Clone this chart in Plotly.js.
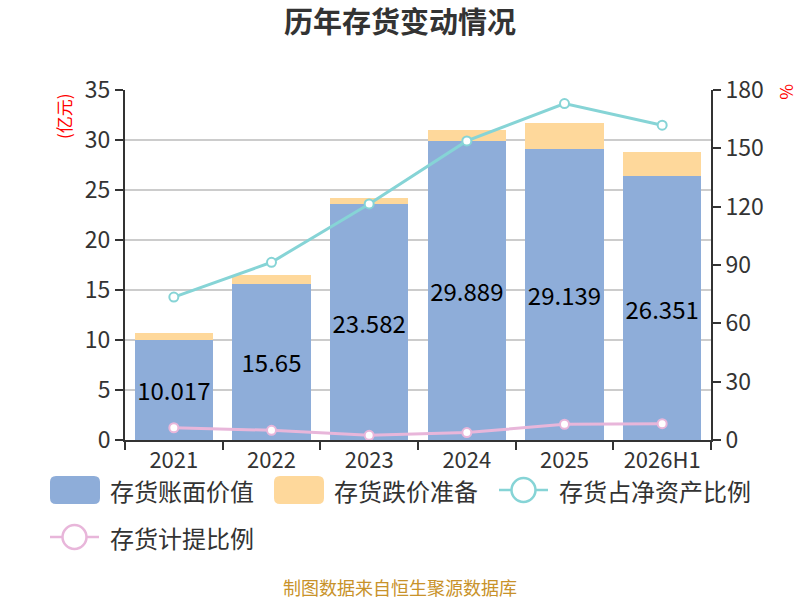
<!DOCTYPE html>
<html>
<head>
<meta charset="utf-8">
<script src="https://cdn.plot.ly/plotly-3.0.1.min.js"></script>
<style>
  body { margin: 0; background: #fff; }
  #chart { width: 800px; height: 600px; }
</style>
</head>
<body>
<div id="chart"></div>
<script>
// 年份
var years = ['2021', '2022', '2023', '2024', '2025', '2026H1'];
// 存货账面价值 (亿元)
var bookValue = [10.017, 15.65, 23.582, 29.889, 29.139, 26.351];
// 存货跌价准备 (亿元)
var reserve = [0.70, 0.85, 0.59, 1.11, 2.53, 2.45];
// 存货占净资产比例 (%)
var netAssetRatio = [73.5, 91.4, 121.4, 153.8, 173.0, 161.9];
// 存货计提比例 (%)
var provisionRatio = [6.3, 5.0, 2.4, 3.8, 8.1, 8.4];

var seriesNames = ['存货账面价值', '存货跌价准备', '存货占净资产比例', '存货计提比例'];
var seriesColors = ['#8eadd9', '#fed89b', '#86d4d6', '#e8b6da'];

var fontFamily = '"Noto Sans CJK SC", "Noto Sans", sans-serif';

// plot area in pixels (for placing the hand-made legend)
var M = { l: 125, r: 89, t: 90, b: 160 };
var plotW = 800 - M.l - M.r, plotH = 600 - M.t - M.b;
function px(x) { return (x - M.l) / plotW; }
function py(y) { return (600 - M.b - y) / plotH; }

var traces = [
  {
    type: 'bar',
    name: seriesNames[0],
    x: years,
    y: bookValue,
    marker: { color: seriesColors[0] },
    text: bookValue.map(String),
    textposition: 'inside',
    insidetextanchor: 'middle',
    textangle: 0,
    constraintext: 'none',
    textfont: { size: 24, color: '#000', family: fontFamily },
    showlegend: false
  },
  {
    type: 'bar',
    name: seriesNames[1],
    x: years,
    y: reserve,
    marker: { color: seriesColors[1] },
    showlegend: false
  },
  {
    type: 'scatter',
    mode: 'lines+markers',
    name: seriesNames[2],
    x: years,
    y: netAssetRatio,
    yaxis: 'y2',
    line: { color: seriesColors[2], width: 3 },
    marker: { symbol: 'circle', size: 9, color: '#fff', line: { color: seriesColors[2], width: 2 } },
    showlegend: false
  },
  {
    type: 'scatter',
    mode: 'lines+markers',
    name: seriesNames[3],
    x: years,
    y: provisionRatio,
    yaxis: 'y2',
    line: { color: seriesColors[3], width: 3 },
    marker: { symbol: 'circle', size: 9, color: '#fff', line: { color: seriesColors[3], width: 2 } },
    showlegend: false
  }
];

// legend: boxes for bars, line+circle for lines
var legendItems = [
  { kind: 'box', x: 50, y: 490 },
  { kind: 'box', x: 274, y: 490 },
  { kind: 'line', x: 499, y: 490 },
  { kind: 'line', x: 50, y: 537 }
];
var shapes = [];
var annotations = [];
legendItems.forEach(function (it, i) {
  var c = seriesColors[i];
  if (it.kind === 'box') {
    var x0 = it.x, x1 = it.x + 50, y0 = it.y - 14, y1 = it.y + 14, r = 6;
    var path = 'M' + px(x0 + r) + ',' + py(y0) +
      ' L' + px(x1 - r) + ',' + py(y0) +
      ' Q' + px(x1) + ',' + py(y0) + ' ' + px(x1) + ',' + py(y0 + r) +
      ' L' + px(x1) + ',' + py(y1 - r) +
      ' Q' + px(x1) + ',' + py(y1) + ' ' + px(x1 - r) + ',' + py(y1) +
      ' L' + px(x0 + r) + ',' + py(y1) +
      ' Q' + px(x0) + ',' + py(y1) + ' ' + px(x0) + ',' + py(y1 - r) +
      ' L' + px(x0) + ',' + py(y0 + r) +
      ' Q' + px(x0) + ',' + py(y0) + ' ' + px(x0 + r) + ',' + py(y0) + ' Z';
    shapes.push({ type: 'path', xref: 'paper', yref: 'paper', path: path,
      fillcolor: c, line: { width: 0 } });
  } else {
    shapes.push({ type: 'line', xref: 'paper', yref: 'paper',
      x0: px(it.x), x1: px(it.x + 49), y0: py(it.y), y1: py(it.y),
      line: { color: c, width: 2.5 } });
    shapes.push({ type: 'circle', xref: 'paper', yref: 'paper',
      x0: px(it.x + 24.5 - 12), x1: px(it.x + 24.5 + 12),
      y0: py(it.y - 12), y1: py(it.y + 12),
      fillcolor: '#fff', line: { color: c, width: 2.5 } });
  }
  annotations.push({
    text: seriesNames[i],
    xref: 'paper', yref: 'paper',
    x: px(it.x + 58), y: py(it.y),
    xanchor: 'left', yanchor: 'middle',
    showarrow: false,
    font: { size: 24, color: '#333' }
  });
});

annotations.push(
  {
    text: '(亿元)',
    xref: 'paper', yref: 'paper',
    x: px(63), y: py(116),
    xanchor: 'center', yanchor: 'middle',
    textangle: -90,
    showarrow: false,
    font: { size: 17, color: '#ff0000' }
  },
  {
    text: '%',
    xref: 'paper', yref: 'paper',
    x: px(787), y: py(92),
    xanchor: 'center', yanchor: 'middle',
    textangle: 90,
    showarrow: false,
    font: { size: 17, color: '#ff0000' }
  },
  {
    text: '制图数据来自恒生聚源数据库',
    xref: 'paper', yref: 'paper',
    x: px(400), y: py(587),
    xanchor: 'center', yanchor: 'middle',
    showarrow: false,
    font: { size: 18, color: '#c8922a' }
  }
);

var axisStyle = {
  showline: true,
  linecolor: '#333',
  linewidth: 2,
  ticks: 'outside',
  ticklen: 8,
  tickwidth: 2,
  tickcolor: '#333',
  tickfont: { size: 23, color: '#333' },
  zeroline: false
};

var layout = {
  width: 800,
  height: 600,
  barmode: 'stack',
  bargap: 0.2,
  paper_bgcolor: '#fff',
  plot_bgcolor: '#fff',
  font: { family: fontFamily, color: '#333' },
  margin: M,
  showlegend: false,
  title: {
    text: '<b>历年存货变动情况</b>',
    font: { size: 29, color: '#333', family: fontFamily },
    x: 0.5,
    xanchor: 'center',
    y: 0.962,
    yanchor: 'middle'
  },
  xaxis: Object.assign({}, axisStyle, {
    type: 'category',
    tickson: 'boundaries',
    tickfont: { size: 22, color: '#333' },
    showgrid: false
  }),
  yaxis: Object.assign({}, axisStyle, {
    range: [0, 35],
    dtick: 5,
    showgrid: true,
    gridcolor: '#cccccc',
    gridwidth: 1.5
  }),
  yaxis2: Object.assign({}, axisStyle, {
    overlaying: 'y',
    side: 'right',
    range: [0, 180],
    dtick: 30,
    showgrid: false
  }),
  shapes: shapes,
  annotations: annotations
};

Plotly.newPlot('chart', traces, layout, { displayModeBar: false, staticPlot: true });
</script>
</body>
</html>
